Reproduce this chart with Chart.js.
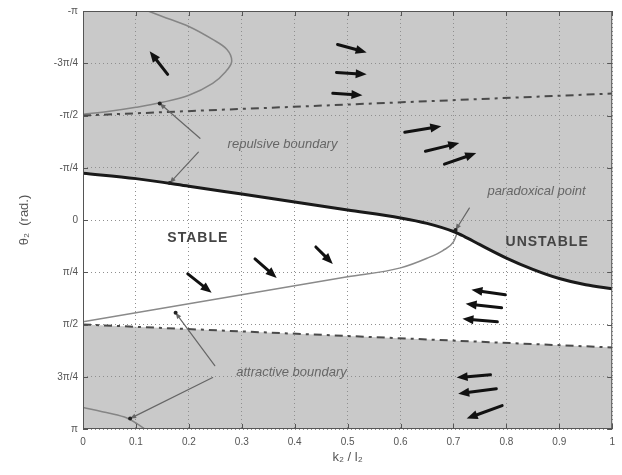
<!DOCTYPE html>
<html>
<head>
<meta charset="utf-8">
<script src="https://cdn.jsdelivr.net/npm/chart.js@4.4.1/dist/chart.umd.min.js"></script>
<style>
  html, body { margin: 0; padding: 0; background: #fff; }
</style>
</head>
<body>
<canvas id="myChart" width="622" height="475"></canvas>
<script>
// x = k2/l2, y = theta2 in units of pi (-pi at the top, pi at the bottom)
const xTicks = [0, 0.1, 0.2, 0.3, 0.4, 0.5, 0.6, 0.7, 0.8, 0.9, 1];
const xTickLabels = ['0', '0.1', '0.2', '0.3', '0.4', '0.5', '0.6', '0.7', '0.8', '0.9', '1'];
const yTicks = [-1, -0.75, -0.5, -0.25, 0, 0.25, 0.5, 0.75, 1];
const yTickLabels = ['-π', '-3π/4', '-π/2', '-π/4', '0', 'π/4', 'π/2', '3π/4', 'π'];

// thick stable / unstable border
const borderX = [0, 0.1, 0.2, 0.3, 0.4, 0.5, 0.6, 0.65, 0.7, 0.72, 0.75, 0.8, 0.85, 0.9, 0.95, 1];
const borderY = [-0.224, -0.198, -0.162, -0.124, -0.086, -0.048, -0.010, 0.016, 0.055, 0.078, 0.118, 0.182, 0.236, 0.280, 0.310, 0.329];

// thin lower edge of the stable tongue (ends at the paradoxical point)
const lowerX = [0, 0.1, 0.2, 0.3, 0.4, 0.5, 0.6, 0.65, 0.68, 0.7, 0.707];
const lowerY = [0.487, 0.444, 0.401, 0.358, 0.315, 0.272, 0.229, 0.183, 0.146, 0.105, 0.062];

// dash-dot boundaries
const repX = [0, 1];
const repY = [-0.5, -0.605];
const attX = [0, 1];
const attY = [0.5, 0.61];

// thin curve top left
const noseX = [0.123, 0.15, 0.2, 0.245, 0.272, 0.281, 0.27, 0.245, 0.2, 0.15, 0.1, 0.05, 0];
const noseY = [-1.0, -0.974, -0.926, -0.864, -0.816, -0.759, -0.711, -0.654, -0.597, -0.563, -0.539, -0.520, -0.506];

// thin curve bottom left
const cornerX = [0, 0.05, 0.083, 0.102, 0.117];
const cornerY = [0.897, 0.925, 0.947, 0.974, 1.0];

// flow arrows [fromX, fromY, toX, toY]
const flowArrows = [
  [0.160, -0.697, 0.126, -0.807],
  [0.481, -0.840, 0.536, -0.802],
  [0.479, -0.706, 0.536, -0.697],
  [0.472, -0.606, 0.528, -0.597],
  [0.608, -0.420, 0.677, -0.449],
  [0.647, -0.329, 0.711, -0.368],
  [0.683, -0.267, 0.743, -0.320],
  [0.198, 0.258, 0.243, 0.348],
  [0.325, 0.186, 0.366, 0.277],
  [0.440, 0.129, 0.472, 0.210],
  [0.798, 0.358, 0.734, 0.334],
  [0.791, 0.420, 0.723, 0.401],
  [0.783, 0.487, 0.717, 0.473],
  [0.770, 0.740, 0.706, 0.754],
  [0.781, 0.807, 0.709, 0.831],
  [0.792, 0.888, 0.725, 0.950]
];

// label pointers [fromX, fromY, toX, toY]
const pointers = [
  [0.221, -0.391, 0.145, -0.558],
  [0.218, -0.325, 0.164, -0.177],
  [0.730, -0.057, 0.704, 0.048],
  [0.249, 0.697, 0.175, 0.444],
  [0.245, 0.754, 0.089, 0.950]
];

const notes = [
  { text: 'repulsive boundary', x: 0.377, y: -0.363, style: 'italic' },
  { text: 'paradoxical point', x: 0.857, y: -0.138, style: 'italic' },
  { text: 'attractive boundary', x: 0.394, y: 0.730, style: 'italic' },
  { text: 'STABLE', x: 0.217, y: 0.086, style: 'bold' },
  { text: 'UNSTABLE', x: 0.877, y: 0.105, style: 'bold' }
];

const zip = (xs, ys) => xs.map((v, i) => ({ x: v, y: ys[i] }));
const shade = '#c9c9c9';

function drawArrow(ctx, x0, y0, x1, y1, width, head, headW, color) {
  const a = Math.atan2(y1 - y0, x1 - x0);
  const bx = x1 - head * Math.cos(a), by = y1 - head * Math.sin(a);
  ctx.strokeStyle = color;
  ctx.lineWidth = width;
  ctx.beginPath();
  ctx.moveTo(x0, y0);
  ctx.lineTo(bx, by);
  ctx.stroke();
  ctx.fillStyle = color;
  ctx.beginPath();
  ctx.moveTo(x1, y1);
  ctx.lineTo(bx + headW / 2 * Math.sin(a), by - headW / 2 * Math.cos(a));
  ctx.lineTo(bx - headW / 2 * Math.sin(a), by + headW / 2 * Math.cos(a));
  ctx.closePath();
  ctx.fill();
}

const overlay = {
  id: 'overlay',
  afterDatasetsDraw(chart) {
    const { ctx, chartArea: a, scales: { x, y } } = chart;
    ctx.save();
    // box and inward ticks
    ctx.strokeStyle = '#555';
    ctx.lineWidth = 1;
    ctx.setLineDash([]);
    ctx.strokeRect(a.left + 0.5, a.top + 0.5, a.right - a.left - 1, a.bottom - a.top - 1);
    ctx.beginPath();
    xTicks.forEach(v => {
      const p = Math.round(x.getPixelForValue(v)) + 0.5;
      ctx.moveTo(p, a.bottom); ctx.lineTo(p, a.bottom - 5);
      ctx.moveTo(p, a.top); ctx.lineTo(p, a.top + 5);
    });
    yTicks.forEach(v => {
      const p = Math.round(y.getPixelForValue(v)) + 0.5;
      ctx.moveTo(a.left, p); ctx.lineTo(a.left + 5, p);
      ctx.moveTo(a.right, p); ctx.lineTo(a.right - 5, p);
    });
    ctx.stroke();

    ctx.lineCap = 'round';
    pointers.forEach(p => {
      drawArrow(ctx, x.getPixelForValue(p[0]), y.getPixelForValue(p[1]),
        x.getPixelForValue(p[2]), y.getPixelForValue(p[3]), 1.2, 6, 5, '#666');
      // small dark tip
      ctx.fillStyle = '#222';
      ctx.beginPath();
      ctx.arc(x.getPixelForValue(p[2]), y.getPixelForValue(p[3]), 2, 0, Math.PI * 2);
      ctx.fill();
    });
    flowArrows.forEach(p => {
      drawArrow(ctx, x.getPixelForValue(p[0]), y.getPixelForValue(p[1]),
        x.getPixelForValue(p[2]), y.getPixelForValue(p[3]), 3, 11, 9, '#111');
    });

    ctx.textAlign = 'center';
    ctx.textBaseline = 'middle';
    notes.forEach(n => {
      if (n.style === 'bold') {
        ctx.font = 'bold 14px "Liberation Sans", Arial, sans-serif';
        ctx.fillStyle = '#444';
        ctx.letterSpacing = '1px';
      } else {
        ctx.font = 'italic 13px "Liberation Sans", Arial, sans-serif';
        ctx.fillStyle = '#666';
        ctx.letterSpacing = '0px';
      }
      ctx.fillText(n.text, x.getPixelForValue(n.x), y.getPixelForValue(n.y));
    });
    ctx.restore();
  }
};

const tickFont = { family: '"Liberation Sans", Arial, sans-serif', size: 10 };
const titleFont = { family: '"Liberation Sans", Arial, sans-serif', size: 13 };

new Chart(document.getElementById('myChart').getContext('2d'), {
  type: 'line',
  data: {
    datasets: [
      { data: zip(borderX, borderY), borderColor: '#1a1a1a', borderWidth: 3,
        cubicInterpolationMode: 'monotone', fill: { value: -1 }, backgroundColor: shade },
      { data: zip(lowerX, lowerY), borderColor: '#8a8a8a', borderWidth: 1.5,
        cubicInterpolationMode: 'monotone', fill: false },
      { data: zip(repX, repY), borderColor: '#4a4a4a', borderWidth: 2, borderDash: [8, 5, 3, 5], fill: false },
      { data: zip(attX, attY), borderColor: '#4a4a4a', borderWidth: 2, borderDash: [8, 5, 3, 5],
        fill: { value: 1 }, backgroundColor: shade },
      { data: zip(noseX, noseY), borderColor: '#858585', borderWidth: 1.5, tension: 0.35, fill: false },
      { data: zip(cornerX, cornerY), borderColor: '#858585', borderWidth: 1.5, tension: 0.3, fill: false }
    ]
  },
  options: {
    responsive: false,
    animation: false,
    events: [],
    elements: { point: { radius: 0 } },
    layout: { padding: { top: 10, right: 9, left: 0, bottom: 0 } },
    plugins: {
      legend: { display: false },
      tooltip: { enabled: false },
      filler: { drawTime: 'beforeDraw' }
    },
    scales: {
      x: {
        type: 'linear', min: 0, max: 1,
        afterBuildTicks: s => { s.ticks = xTicks.map(v => ({ value: v })); },
        afterFit: s => { s.height = 46; },
        ticks: { font: tickFont, color: '#555', padding: 7, maxRotation: 0,
          callback: v => xTickLabels[xTicks.indexOf(v)] },
        grid: { color: '#8f8f8f', lineWidth: 1, drawTicks: false },
        border: { display: false, dash: [1, 3] },
        title: { display: true, text: 'k₂ / l₂', color: '#555', font: titleFont, padding: { top: 4, bottom: 10 } }
      },
      y: {
        type: 'linear', min: -1, max: 1, reverse: true,
        afterBuildTicks: s => { s.ticks = yTicks.map(v => ({ value: v })); },
        afterFit: s => { s.width = 83; },
        ticks: { font: tickFont, color: '#555', padding: 5,
          callback: v => yTickLabels[yTicks.indexOf(v)] },
        grid: { color: '#8f8f8f', lineWidth: 1, drawTicks: false },
        border: { display: false, dash: [1, 3] },
        title: { display: true, text: 'θ₂  (rad.)', color: '#555', font: titleFont, padding: { top: 17 } }
      }
    }
  },
  plugins: [overlay]
});
</script>
</body>
</html>
